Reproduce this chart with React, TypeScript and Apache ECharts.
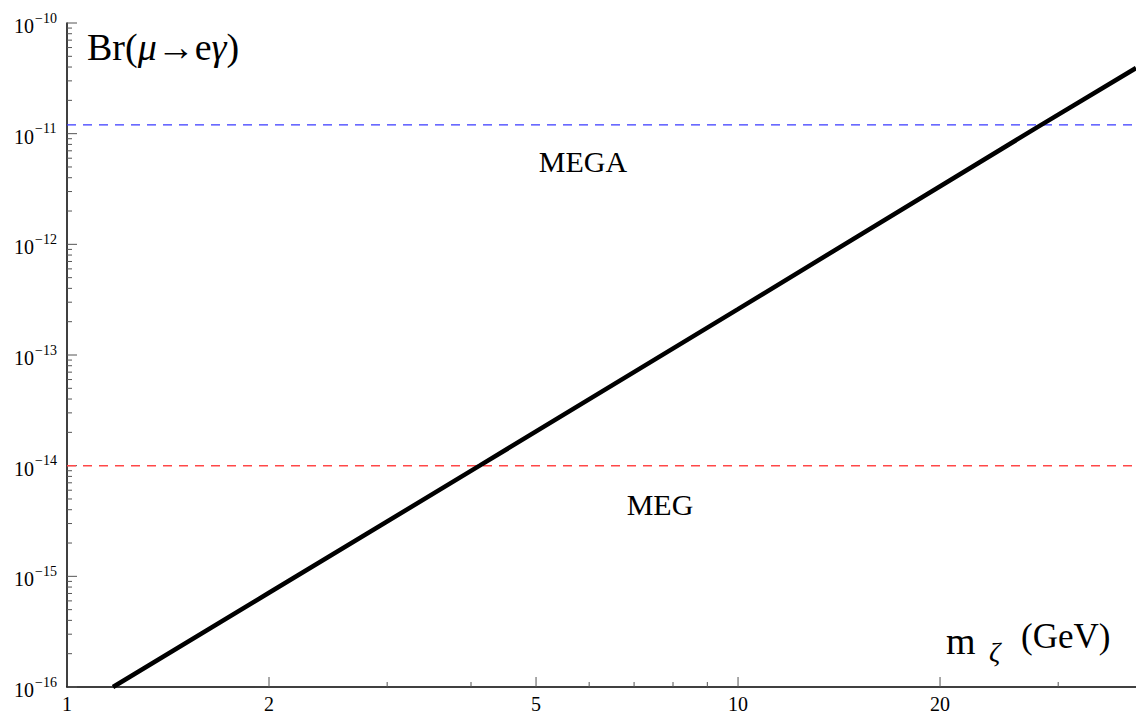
import React, { useEffect, useRef } from "react";
import * as echarts from "echarts";

// Data
const massGeV = [1.171, 2, 4.12, 10, 28.3, 39.18];
const branching = [1e-16, 7.1e-16, 1e-14, 2.6e-13, 1.2e-11, 3.92e-11];
const megaLimit = 1.2e-11;
const megLimit = 1e-14;
const xMin = 1;
const xMax = 39.18;
const yMin = 1e-16;
const yMax = 1e-10;
const xMajorTicks = [1, 2, 5, 10, 20];
const xMinorTicks = [3, 4, 6, 7, 8, 9, 30];
const yDecades = [-16, -15, -14, -13, -12, -11, -10];
const yMinorFactors = [2, 3, 4, 5, 6, 7, 8, 9];

const SERIF = "'Liberation Serif', 'DejaVu Serif', serif";

export default function App() {
  const ref = useRef<HTMLDivElement>(null);
  useEffect(() => {
    if (!ref.current) return;
    const chart = echarts.init(ref.current, null, { renderer: "svg" });

    const yTickData: any[] = [];
    yDecades.forEach((d) => {
      yTickData.push([xMin, Math.pow(10, d), 1, d]);
      if (d < -10) {
        yMinorFactors.forEach((k) => yTickData.push([xMin, k * Math.pow(10, d), 0, d]));
      }
    });
    const xTickData: any[] = [];
    xMajorTicks.forEach((v) => xTickData.push([v, yMin, 1]));
    xMinorTicks.forEach((v) => xTickData.push([v, yMin, 0]));

    chart.setOption({
      animation: false,
      backgroundColor: "#ffffff",
      grid: { left: 67, right: 0, top: 23, bottom: 28, containLabel: false },
      xAxis: {
        type: "log",
        logBase: 10,
        min: xMin,
        max: xMax,
        axisLine: { show: true, lineStyle: { color: "#000", width: 1.5 } },
        axisTick: { show: false },
        axisLabel: { show: false },
        splitLine: { show: false },
        minorTick: { show: false },
      },
      yAxis: {
        type: "log",
        logBase: 10,
        min: yMin,
        max: yMax,
        axisLine: { show: true, lineStyle: { color: "#000", width: 1.5 } },
        axisTick: { show: false },
        axisLabel: { show: false },
        splitLine: { show: false },
        minorTick: { show: false },
      },
      series: [
        {
          type: "line",
          name: "MEGA",
          data: [
            [xMin, megaLimit],
            [xMax, megaLimit],
          ],
          showSymbol: false,
          lineStyle: { color: "#3a3aff", width: 1.3, type: [9, 7] },
          z: 2,
        },
        {
          type: "line",
          name: "MEG",
          data: [
            [xMin, megLimit],
            [xMax, megLimit],
          ],
          showSymbol: false,
          lineStyle: { color: "#ff4848", width: 1.5, type: [9, 7] },
          z: 2,
        },
        {
          type: "line",
          name: "Br",
          data: massGeV.map((m, i) => [m, branching[i]]),
          showSymbol: false,
          lineStyle: { color: "#000", width: 4.5 },
          z: 3,
        },
        {
          type: "custom",
          name: "yticks",
          clip: false,
          silent: true,
          data: yTickData,
          renderItem: (params: any, api: any) => {
            const p = api.coord([api.value(0), api.value(1)]);
            const major = api.value(2) === 1;
            const d = api.value(3);
            const children: any[] = [
              {
                type: "line",
                shape: { x1: p[0], y1: p[1], x2: p[0] + (major ? 10 : 5), y2: p[1] },
                style: { stroke: "#555", lineWidth: 1 },
              },
            ];
            if (major) {
              children.push({
                type: "text",
                style: {
                  text: "10",
                  x: 34,
                  y: p[1] + 3,
                  align: "right",
                  verticalAlign: "middle",
                  fontFamily: SERIF,
                  fontSize: 20,
                  fill: "#000",
                },
              });
              children.push({
                type: "text",
                style: {
                  text: "\u2212" + Math.abs(d),
                  x: 35,
                  y: p[1] - 5,
                  align: "left",
                  verticalAlign: "middle",
                  fontFamily: SERIF,
                  fontSize: 14,
                  fill: "#000",
                },
              });
            }
            return { type: "group", children };
          },
        },
        {
          type: "custom",
          name: "xticks",
          clip: false,
          silent: true,
          data: xTickData,
          renderItem: (params: any, api: any) => {
            const p = api.coord([api.value(0), api.value(1)]);
            const major = api.value(2) === 1;
            const children: any[] = [];
            if (api.value(0) > xMin) {
              children.push({
                type: "line",
                shape: { x1: p[0], y1: p[1], x2: p[0], y2: p[1] - (major ? 10 : 5) },
                style: { stroke: "#555", lineWidth: 1 },
              });
            }
            if (major) {
              children.push({
                type: "text",
                style: {
                  text: String(api.value(0)),
                  x: p[0],
                  y: p[1] + 17,
                  align: "center",
                  verticalAlign: "middle",
                  fontFamily: SERIF,
                  fontSize: 20,
                  fill: "#000",
                },
              });
            }
            return { type: "group", children };
          },
        },
      ],
      graphic: [
        {
          type: "text",
          left: 87,
          top: 28,
          style: {
            text: "{n|Br(}{i|\u03bc}{n|\u2192e}{i|\u03b3}{n|)}",
            rich: {
              n: { fontFamily: SERIF, fontSize: 38, fill: "#000" },
              i: { fontFamily: SERIF, fontSize: 38, fontStyle: "italic", fill: "#000" },
            },
          },
        },
        {
          type: "text",
          x: 583,
          y: 161,
          style: {
            text: "MEGA",
            align: "center",
            verticalAlign: "middle",
            fontFamily: SERIF,
            fontSize: 30,
            fill: "#000",
          },
        },
        {
          type: "text",
          x: 660,
          y: 504,
          style: {
            text: "MEG",
            align: "center",
            verticalAlign: "middle",
            fontFamily: SERIF,
            fontSize: 30,
            fill: "#000",
          },
        },
        {
          type: "text",
          x: 946,
          y: 641,
          style: {
            text: "m",
            verticalAlign: "middle",
            fontFamily: SERIF,
            fontSize: 38,
            fill: "#000",
          },
        },
        {
          type: "text",
          x: 989,
          y: 651,
          style: {
            text: "\u03b6",
            verticalAlign: "middle",
            fontFamily: SERIF,
            fontStyle: "italic",
            fontSize: 28,
            fill: "#000",
          },
        },
        {
          type: "text",
          x: 1021,
          y: 636,
          style: {
            text: "(GeV)",
            verticalAlign: "middle",
            fontFamily: SERIF,
            fontSize: 35,
            fill: "#000",
          },
        },
      ],
    });
    return () => chart.dispose();
  }, []);

  return (
    <div
      ref={ref}
      style={{ position: "fixed", left: 0, top: 0, width: 1136, height: 715, background: "#fff" }}
    />
  );
}
